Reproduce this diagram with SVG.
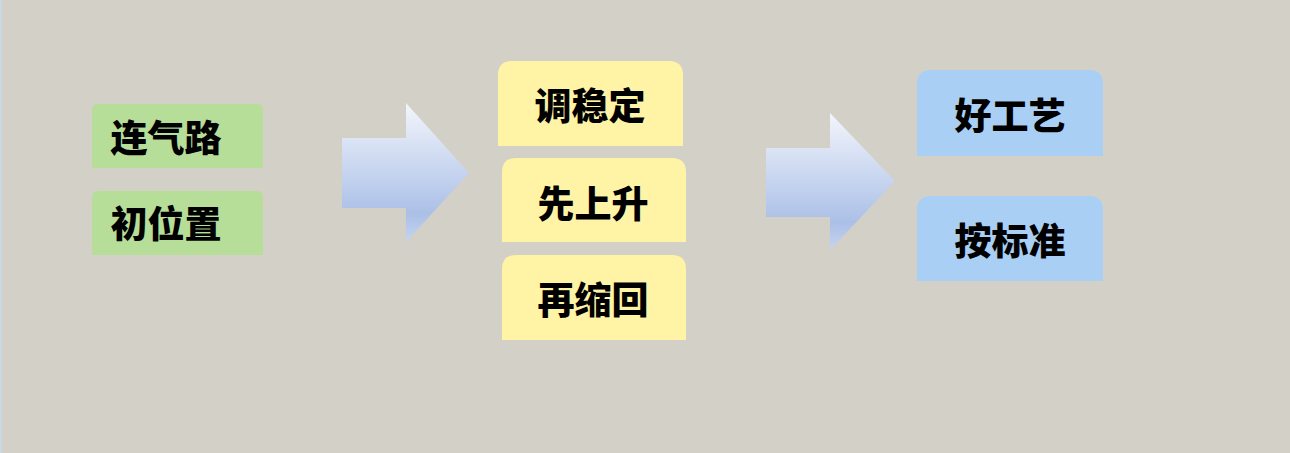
<svg xmlns="http://www.w3.org/2000/svg" width="1290" height="453" viewBox="0 0 1290 453">
<style>
.t{font-family:"Noto Sans CJK SC","Noto Sans",sans-serif;font-weight:900;font-size:37px;fill:#000;text-anchor:middle;dominant-baseline:central}
.g{fill:#b6de99}
.y{fill:#fff3a6}
.b{fill:#a9cff4}
.arr{fill:url(#ag)}
</style>
<defs>
<linearGradient id="ag" x1="0" y1="0" x2="0" y2="1">
<stop offset="0" stop-color="#f3f5fc"/>
<stop offset="0.8" stop-color="#abc0e7"/>
<stop offset="1" stop-color="#c6d4ef"/>
</linearGradient>
</defs>
<rect width="1290" height="453" fill="#d3d0c8"/>
<rect x="0" y="0" width="2" height="453" fill="#c9d6e6"/>
<g id="connectors">
<path class="arr" d="M342,138 H406 V103 L469,173 L406,242 V208 H342 Z"/>
<path class="arr" d="M766,148 H830 V113 L895,181 L830,250 V217 H766 Z"/>
</g>
<g id="n1"><path class="g" d="M92,168 V110 Q92,104 98,104 H257 Q263,104 263,110 V168 Z"/><text class="t" x="166" y="136">连气路</text></g>
<g id="n2"><path class="g" d="M92,255 V197 Q92,191 98,191 H257 Q263,191 263,197 V255 Z"/><text class="t" x="166" y="222">初位置</text></g>
<g id="n3"><path class="y" d="M498,146 V75 Q498,61 512,61 H669 Q683,61 683,75 V146 Z"/><text class="t" x="590" y="104">调稳定</text></g>
<g id="n4"><path class="y" d="M502,242 V172 Q502,158 516,158 H672 Q686,158 686,172 V242 Z"/><text class="t" x="593" y="202">先上升</text></g>
<g id="n5"><path class="y" d="M502,340 V269 Q502,255 516,255 H672 Q686,255 686,269 V340 Z"/><text class="t" x="593" y="298">再缩回</text></g>
<g id="n6"><path class="b" d="M917,156 V84 Q917,70 931,70 H1089 Q1103,70 1103,84 V156 Z"/><text class="t" x="1010" y="114">好工艺</text></g>
<g id="n7"><path class="b" d="M917,281 V210 Q917,196 931,196 H1089 Q1103,196 1103,210 V281 Z"/><text class="t" x="1010" y="239">按标准</text></g>
</svg>
